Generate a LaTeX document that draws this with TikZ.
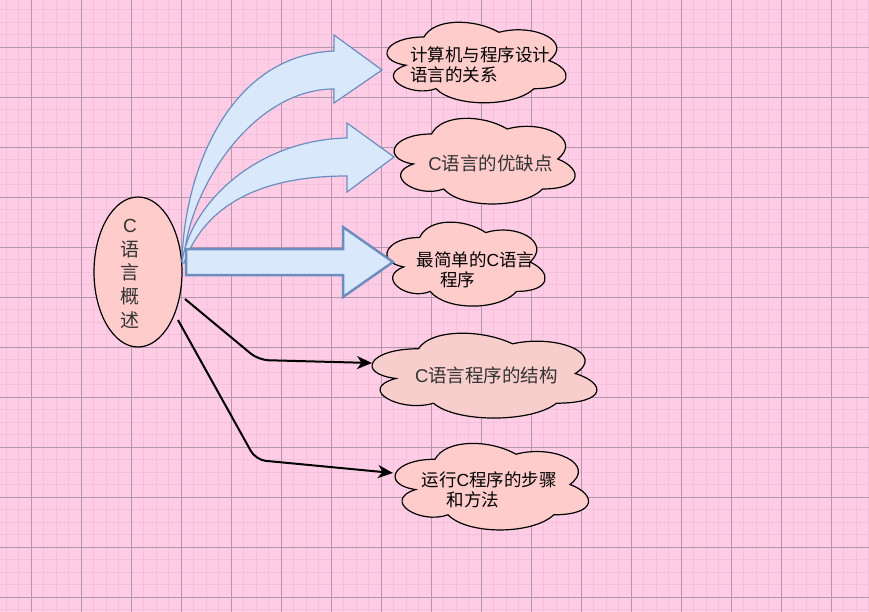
\documentclass[tikz,border=0pt]{standalone}
\usepackage{fontspec}
\setmainfont{Noto Sans CJK SC}
\newfontfamily\lat{Liberation Sans}
\usetikzlibrary{shapes.geometric,arrows.meta}
\definecolor{bgpink}{HTML}{FFCCE6}
\definecolor{gridminor}{HTML}{F2C2DC}
\definecolor{gridmajor}{HTML}{B497AC}
\definecolor{cloudfill}{HTML}{FFCCCC}
\definecolor{cloudfillb}{HTML}{F8CECC}
\definecolor{arrfill}{HTML}{DAE8FC}
\definecolor{arrline}{HTML}{6C8EBF}
\definecolor{txtgray}{HTML}{333333}
\tikzset{
  cloudline/.style={draw=black, line width=1.2pt},
  bluearrow/.style={fill=arrfill, draw=arrline, line width=1.2pt, line join=miter},
  blackconn/.style={draw=black, line width=2pt, rounded corners=10pt, -{Stealth[length=15pt,width=13pt,inset=4.5pt]}},
  lbl/.style={inner sep=0pt, anchor=west, text=black, font=\fontsize{17.5}{21}\selectfont},
  lblc/.style={inner sep=0pt, text=txtgray, font=\fontsize{18.5}{22}\selectfont},
}
\newcommand\mxcloud[5]{%
  \begin{scope}[shift={(#1pt,-#2pt)}, x=#3pt, y=-#4pt]
    \path[cloudline, fill=#5] (0.25,0.25)
      .. controls (0.05,0.25) and (0,0.5) .. (0.16,0.55)
      .. controls (0,0.66) and (0.18,0.9) .. (0.31,0.8)
      .. controls (0.4,1) and (0.7,1) .. (0.8,0.8)
      .. controls (1,0.8) and (1,0.6) .. (0.875,0.5)
      .. controls (1,0.3) and (0.8,0.1) .. (0.625,0.2)
      .. controls (0.5,0.05) and (0.3,0.05) .. (0.25,0.25) -- cycle;
  \end{scope}}
\begin{document}
\begin{tikzpicture}[x=1pt,y=-1pt]
\fill[bgpink] (0,0) rectangle (869,612);
\useasboundingbox (0,0) rectangle (869,612);
% grid
\foreach \i in {0,...,69} \draw[gridminor, line width=1pt] ({6+12.5*\i},0) -- ({6+12.5*\i},612);
\foreach \j in {0,...,48} \draw[gridminor, line width=1pt] (0,{9.8+12.5*\j}) -- (869,{9.8+12.5*\j});
\foreach \i in {0,...,16} \draw[gridmajor, line width=1pt] ({31+50*\i},0) -- ({31+50*\i},612);
\foreach \j in {0,...,11} \draw[gridmajor, line width=1pt] (0,{47.3+50*\j}) -- (869,{47.3+50*\j});

% clouds
\mxcloud{374}{13.5}{200}{94}{cloudfill}
\mxcloud{381}{109}{202}{100}{cloudfill}
\mxcloud{375.5}{213}{176.5}{98}{cloudfill}
\mxcloud{355.7}{324}{251}{99}{cloudfillb}
\mxcloud{381}{434}{216}{101}{cloudfill}

% central ellipse
\node[ellipse, draw=black, line width=1.2pt, fill=cloudfill, minimum width=88pt, minimum height=150pt, inner sep=0pt] (ell) at (138,272) {};
\node[inner sep=0pt, text=txtgray, align=center, font=\fontsize{19}{23.75}\selectfont] (elltxt) at (130,273.8) {{\lat C}\\语\\言\\概\\述};

% blue arrows
\path[bluearrow] (182,262) .. controls (184,170) and (230,55) .. (334,51)
  -- (334,35) -- (382,70) -- (334,103) -- (334,89)
  .. controls (250,89) and (186,195) .. (184,262) -- cycle;
\path[bluearrow] (182,262) .. controls (190,205) and (255,140) .. (347,138)
  -- (347,123) -- (394,157) -- (347,192) -- (347,176)
  .. controls (260,176) and (205,205) .. (184,263) -- cycle;
\path[bluearrow, line width=2.5pt] (186,249) -- (343,249) -- (343,227) -- (393,262)
  -- (343,297) -- (343,275) -- (186,275) -- cycle;

% black connectors
\coordinate (a4s) at (185,299);
\coordinate (a4k) at (258.5,360);
\coordinate (a4e) at (372,363);
\coordinate (a5s) at (178,320);
\coordinate (a5k) at (255.8,459.9);
\coordinate (a5e) at (393,473);
\draw[blackconn] (a4s) -- (a4k) -- (a4e);
\draw[blackconn] (a5s) -- (a5k) -- (a5e);

% labels
\node[lbl] (t1a) at (410,55) {计算机与程序设计};
\node[lbl] (t1b) at (410,75) {语言的关系};
\node[lblc] (t2) at (490.5,163) {{\lat C}语言的优缺点};
\node[lbl] (t3a) at (416.5,260) {最简单的{\lat C}语言};
\node[lbl] (t3b) at (440,280) {程序};
\node[lblc] (t4) at (486.5,375) {{\lat C}语言程序的结构};
\node[lbl] (t5a) at (421.5,480) {运行{\lat C}程序的步骤};
\node[lbl] (t5b) at (446.5,500) {和方法};
\end{tikzpicture}
\end{document}
